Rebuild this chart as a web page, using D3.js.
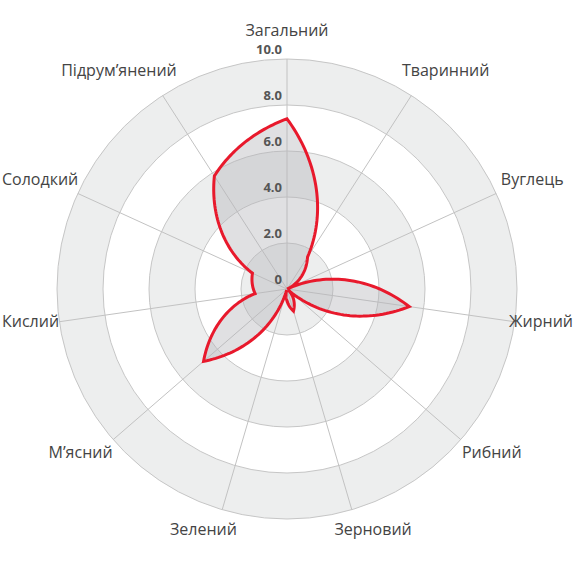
<!DOCTYPE html>
<html>
<head>
<meta charset="utf-8">
<script src="https://cdn.jsdelivr.net/npm/d3@7"></script>
<style>
  html, body { margin: 0; padding: 0; background: #ffffff; }
  svg { display: block; }
</style>
</head>
<body>
<svg id="chart" width="575" height="575"></svg>
<script>
// ---- data ----
const categories = ["Загальний", "Тваринний", "Вуглець", "Жирний", "Рибний", "Зерновий",
                    "Зелений", "М’ясний", "Кислий", "Солодкий", "Підрум’янений"];
const values = [7.4, 1.65, 0.0, 5.37, 0.05, 1.0, 0.05, 4.8, 1.4, 1.65, 5.84];
const tickValues = [0, 2, 4, 6, 8, 10];
const tickLabels = ["0", "2.0", "4.0", "6.0", "8.0", "10.0"];

// ---- layout ----
const W = 575, H = 575;
const cx = 287, cy = 289;
const R = 230;
const n = categories.length;

const svg = d3.select("#chart");
const g = svg.append("g").attr("transform", `translate(${cx},${cy})`);

const r = d3.scaleLinear().domain([0, 10]).range([0, R]);
const angle = d3.scaleLinear().domain([0, n]).range([0, 2 * Math.PI]);

// bands (alternating grey / white)
const bandTicks = tickValues.filter(d => d > 0).slice().reverse();
g.selectAll("circle.band")
  .data(bandTicks)
  .join("circle")
  .attr("class", "band")
  .attr("r", d => r(d))
  .attr("fill", (d, i) => i % 2 === 0 ? "#edeeee" : "#ffffff")
  .attr("stroke", "#c6c6c6")
  .attr("stroke-width", 1);

// spokes
g.selectAll("line.spoke")
  .data(categories)
  .join("line")
  .attr("class", "spoke")
  .attr("x1", 0).attr("y1", 0)
  .attr("x2", (d, i) => r(10) * Math.sin(angle(i)))
  .attr("y2", (d, i) => -r(10) * Math.cos(angle(i)))
  .attr("stroke", "#c2c2c2")
  .attr("stroke-width", 1);

// data shape: linear in polar space between axes
const steps = 40;
const pts = [];
values.forEach((v, i) => {
  const vNext = values[(i + 1) % n];
  for (let s = 0; s < steps; s++) {
    const t = s / steps;
    pts.push([angle(i + t), r(v + (vNext - v) * t)]);
  }
});
const radial = d3.lineRadial()
  .angle(d => d[0])
  .radius(d => d[1])
  .curve(d3.curveLinearClosed);

g.append("path")
  .attr("d", radial(pts))
  .attr("fill", "#b4b6ba")
  .attr("fill-opacity", 0.42)
  .attr("stroke", "#e8192c")
  .attr("stroke-width", 3)
  .attr("stroke-linejoin", "miter");

// tick labels
g.selectAll("text.tick")
  .data(tickValues)
  .join("text")
  .attr("class", "tick")
  .attr("x", -5)
  .attr("y", d => -r(d) - 5)
  .attr("text-anchor", "end")
  .attr("font-family", "'Open Sans', sans-serif")
  .attr("font-weight", 700)
  .attr("font-size", 13)
  .attr("fill", "#555555")
  .text((d, i) => tickLabels[i]);

// category labels
const labelRx = 240, labelRy = 255;
const lab = g.selectAll("text.cat")
  .data(categories)
  .join("text")
  .attr("class", "cat")
  .attr("text-anchor", "middle")
  .attr("font-family", "'Open Sans', sans-serif")
  .attr("font-size", 16)
  .attr("fill", "#444444")
  .attr("dy", "0.35em")
  .text(d => d);

lab.each(function(d, i) {
  const a = angle(i);
  const s = Math.sin(a), c = Math.cos(a);
  const w = this.getComputedTextLength();
  const shift = Math.abs(s) > 0.1 ? Math.sign(s) * 0.45 * w * Math.sqrt(Math.abs(s)) : 0;
  let x = labelRx * s + shift;
  // keep label inside the canvas
  const minX = -cx + 2 + w / 2, maxX = (W - cx) - 2 - w / 2;
  x = Math.max(minX, Math.min(maxX, x));
  d3.select(this)
    .attr("x", x)
    .attr("y", -labelRy * c - 4);
});
</script>
</body>
</html>
